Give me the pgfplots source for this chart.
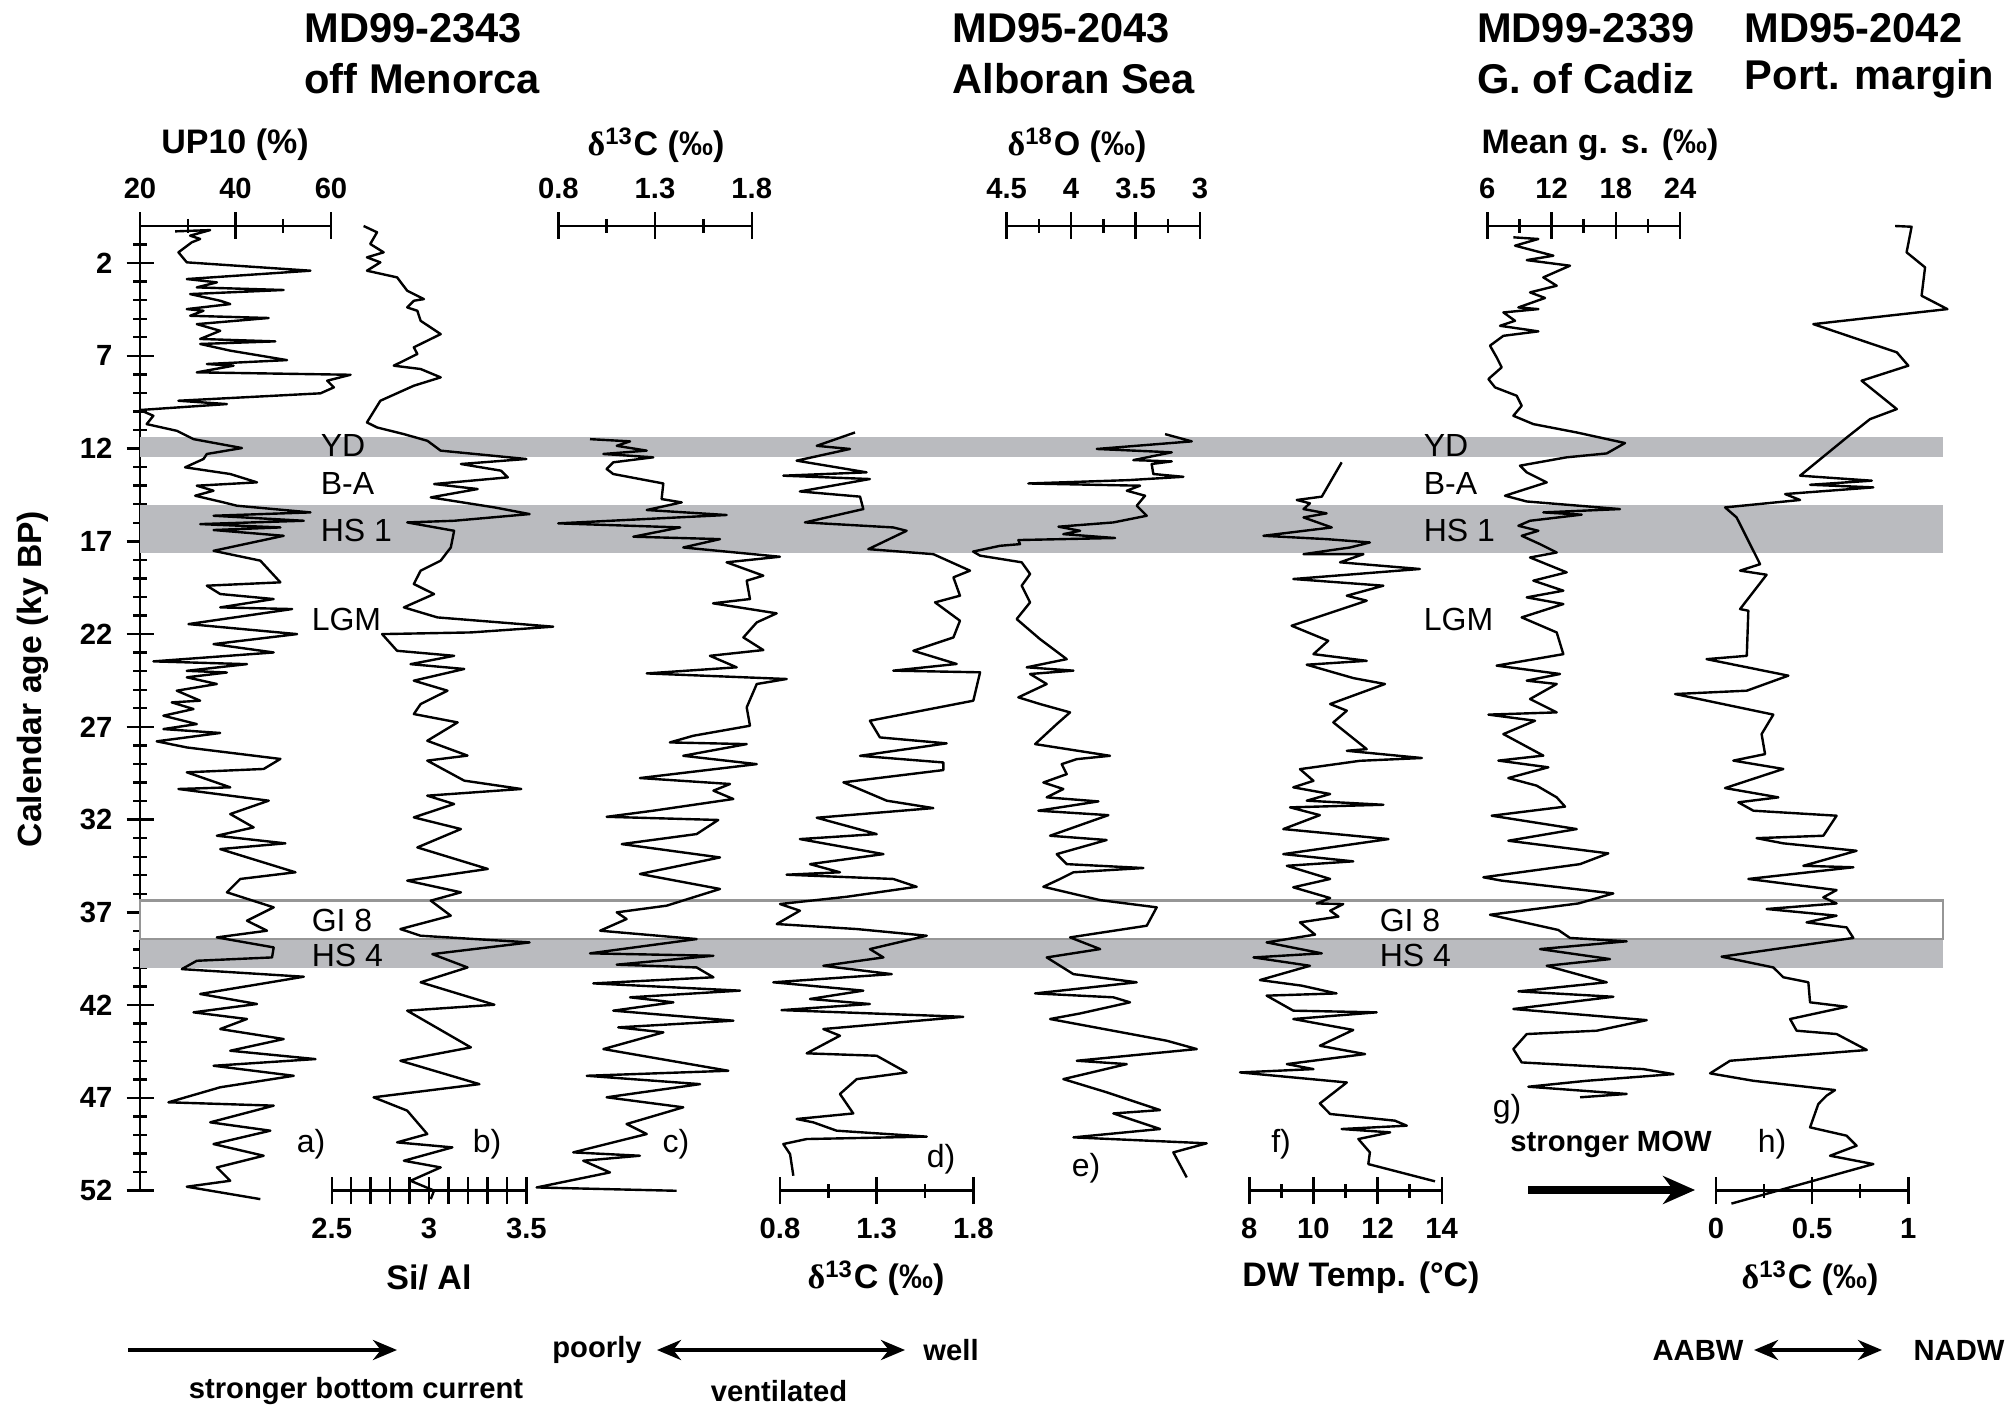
\documentclass[border=0pt]{standalone}
\usepackage{pgfplots}
\pgfplotsset{compat=1.18}
\usepackage{fontspec}
\setmainfont{Liberation Sans}
\newfontfamily\dfont{Liberation Serif}
\usetikzlibrary{arrows.meta}
\definecolor{bandgray}{RGB}{186,187,191}
\definecolor{boxgray}{RGB}{150,150,150}
\newcommand\ticfont{\bfseries\fontsize{7.3}{8}\selectfont}
\newcommand\labfont{\bfseries\fontsize{8.5}{10}\selectfont}
\newcommand\titfont{\bfseries\fontsize{10.4}{12}\selectfont}
\newcommand\bandfont{\fontsize{8}{9}\selectfont}
\newcommand\dC{{\dfont δ}\textsuperscript{13}C (‰)}
\pgfplotsset{
  curve/.style={scale only axis, height=241.15pt, ymin=0, ymax=52, y dir=reverse,
    axis y line=none, ytick=\empty, clip=false, tick align=center,
    major tick length=6.75pt, minor tick length=3.5pt,
    every tick/.style={black, line width=0.6pt},
    axis line style={-, line width=0.6pt}, anchor=north west,
    xticklabel style={font=\ticfont}},
  noarrow/.style={axis line style={-}, x axis line style={-},
    every outer x axis line/.append style={-},
    every inner x axis line/.append style={-}},
  topbar/.style={axis x line=top, noarrow},
  botbar/.style={axis x line=bottom, noarrow},
  ln/.style={black, line width=0.6pt, line join=round}
}
\begin{document}
\begin{tikzpicture}
\path[use as bounding box] (0,0) rectangle (502pt,-352pt);
% main axis with bands
\begin{axis}[scale only axis, width=450.75pt, height=241.15pt, anchor=north west, at={(35pt,-56.5pt)},
  xmin=0, xmax=1, ymin=0, ymax=52, y dir=reverse, axis x line=none, axis y line=left,
  axis line style={-, line width=0.6pt}, y axis line style={-},
  every outer y axis line/.append style={-}, every inner y axis line/.append style={-},
  xtick=\empty,
  ytick={2,7,12,17,22,27,32,37,42,47,52}, minor ytick={1,...,52},
  tick align=center, major tick length=6.75pt, minor tick length=3.5pt,
  every tick/.style={black, line width=0.6pt},
  yticklabel style={font=\ticfont},
  /pgf/number format/assume math mode=true,
  clip=false]
\addplot[fill=bandgray, draw=none] coordinates {(0,11.36)(1,11.36)(1,12.47)(0,12.47)} -- cycle;
\addplot[fill=bandgray, draw=none] coordinates {(0,15.02)(1,15.02)(1,17.63)(0,17.63)} -- cycle;
\addplot[fill=bandgray, draw=none] coordinates {(0,38.5)(1,38.5)(1,40.0)(0,40.0)} -- cycle;
\addplot[fill=white, draw=boxgray, line width=0.6pt] coordinates {(0,36.37)(1,36.37)(1,38.44)(0,38.44)} -- cycle;
\end{axis}
% a) UP10
\begin{axis}[curve, topbar, at={(35pt,-56.5pt)}, width=47.75pt, xmin=20, xmax=60,
  xtick={20,40,60}, xticklabels={20,40,60}, minor xtick={30,50}]
\addplot[ln] coordinates {(27.35,0.29)(34.7,0.22)(30.5,0.52)(32.6,0.70)(30.85,0.88)(28.05,1.42)(29.8,1.96)(55.7,2.41)(29.8,2.86)(36.1,3.04)(31.9,3.31)(50.1,3.45)(30.5,3.67)(36.8,4.03)(38.9,4.21)(29.8,4.48)(33.3,4.57)(30.5,4.84)(46.95,4.96)(31.9,5.29)(36.8,5.65)(32.6,6.09)(48.35,6.22)(32.6,6.36)(38.9,6.72)(50.8,7.23)(34.0,7.44)(39.6,7.53)(31.9,7.89)(64.1,8.02)(59.2,8.34)(60.6,8.70)(57.8,9.02)(28.05,9.42)(38.2,9.60)(20.0,9.92)(22.8,10.23)(21.4,10.68)(27.7,11.04)(31.2,11.49)(41.35,11.97)(34.0,12.29)(33.3,12.56)(29.45,13.01)(38.9,13.37)(44.5,13.82)(31.9,14.00)(35.4,14.27)(31.55,14.54)(37.5,14.90)(40.3,15.08)(55.7,15.44)(35.4,15.62)(54.3,15.89)(32.6,16.07)(49.4,16.25)(35.4,16.39)(50.1,16.70)(35.4,17.51)(45.2,18.04)(49.4,19.21)(34.0,19.39)(36.8,19.84)(48.0,20.11)(36.8,20.56)(51.85,20.65)(30.15,21.46)(52.9,22.0)(35.4,22.54)(48.0,22.99)(22.8,23.47)(42.4,23.62)(29.8,23.98)(38.2,24.07)(29.8,24.33)(36.1,24.69)(27.7,25.05)(32.6,25.59)(26.65,25.68)(31.2,26.04)(24.9,26.4)(31.9,26.85)(24.9,27.12)(36.8,27.33)(23.5,27.78)(29.8,28.11)(49.4,28.73)(45.9,29.27)(29.8,29.45)(38.9,30.26)(28.05,30.35)(46.95,30.98)(38.9,31.7)(43.8,32.42)(36.1,32.87)(50.45,33.28)(36.8,33.59)(52.55,34.84)(41.0,35.2)(38.2,35.92)(48.0,36.73)(42.4,37.45)(46.6,37.99)(36.1,38.35)(48.0,38.89)(47.65,39.43)(31.9,39.61)(28.75,40.06)(54.3,40.47)(32.6,41.4)(44.5,41.94)(31.2,42.39)(42.4,42.75)(36.8,43.29)(50.1,43.83)(38.9,44.46)(56.75,44.91)(35.4,45.27)(52.2,45.81)(36.8,46.43)(25.95,47.24)(48.0,47.42)(34.7,48.32)(47.3,48.77)(35.4,49.49)(45.9,50.12)(36.1,50.75)(38.9,51.47)(29.8,51.79)(45.2,52.46)};
\end{axis}
% b) Si/Al
\begin{axis}[curve, botbar, at={(82.925pt,-56.5pt)}, width=48.65pt, xmin=2.5, xmax=3.5,
  xtick={2.5,2.6,2.7,2.8,2.9,3,3.1,3.2,3.3,3.4,3.5}, xticklabels={2.5,,,,,3,,,,,3.5}]
\addplot[ln] coordinates {(2.664,0.0)(2.733,0.34)(2.698,0.97)(2.767,1.42)(2.681,1.69)(2.75,1.96)(2.681,2.41)(2.836,2.77)(2.888,3.49)(2.974,3.94)(2.922,4.03)(2.888,4.39)(2.94,4.57)(2.957,5.11)(3.06,5.83)(2.922,6.54)(2.94,6.90)(2.819,7.53)(2.957,7.71)(3.06,8.16)(2.922,8.61)(2.75,9.42)(2.681,10.59)(2.733,10.86)(2.871,11.22)(2.992,11.58)(3.06,12.11)(3.5,12.56)(3.164,12.83)(3.37,13.19)(3.405,13.55)(3.026,13.91)(3.25,14.18)(3.009,14.63)(3.336,15.17)(3.517,15.53)(3.129,15.89)(2.888,15.98)(3.129,16.43)(3.112,17.33)(3.06,18.04)(2.957,18.58)(2.922,19.30)(3.026,19.84)(2.871,20.56)(3.043,21.10)(3.638,21.60)(3.215,21.91)(2.759,22.0)(2.836,22.9)(3.129,23.17)(2.905,23.62)(3.181,23.88)(2.922,24.51)(3.095,25.05)(2.957,25.77)(2.922,26.31)(3.147,26.76)(2.991,27.75)(3.198,28.55)(2.991,28.82)(3.181,29.9)(3.474,30.35)(2.991,30.71)(3.129,31.16)(2.922,31.88)(3.164,32.51)(2.94,33.5)(3.302,34.66)(2.888,35.29)(3.164,35.92)(3.009,36.37)(3.112,37.18)(2.853,37.9)(2.957,38.26)(3.517,38.62)(3.017,39.25)(3.198,39.97)(2.957,40.77)(3.336,41.98)(2.888,42.3)(3.215,44.28)(2.853,45.0)(3.259,46.26)(2.715,46.97)(2.888,47.69)(2.991,48.95)(2.836,49.4)(3.12,49.67)(2.871,50.39)(3.06,50.75)(2.905,51.47)(3.026,52.0)(3.009,52.46)};
\end{axis}
% c) d13C top
\begin{axis}[curve, topbar, at={(139.575pt,-56.5pt)}, width=48.35pt, xmin=0.8, xmax=1.8,
  xtick={0.8,1.3,1.8}, xticklabels={0.8,1.3,1.8}, minor xtick={1.05,1.55}]
\addplot[ln] coordinates {(0.964,11.49)(1.171,11.61)(1.102,11.85)(1.257,12.11)(1.033,12.29)(1.291,12.47)(1.084,12.74)(1.05,13.1)(1.084,13.37)(1.343,13.88)(1.334,14.72)(1.438,14.9)(1.257,15.31)(1.67,15.58)(0.80,16.03)(1.43,16.25)(1.188,16.75)(1.636,16.88)(1.446,17.33)(1.946,17.83)(1.67,18.13)(1.86,18.85)(1.774,19.12)(1.791,20.11)(1.6,20.34)(1.929,20.88)(1.826,21.37)(1.757,22.18)(1.86,22.86)(1.584,23.17)(1.722,23.79)(1.257,24.12)(1.981,24.42)(1.826,24.69)(1.774,25.95)(1.791,26.94)(1.498,27.48)(1.377,27.84)(1.774,27.93)(1.446,28.56)(1.826,29.01)(1.222,29.76)(1.688,30.08)(1.602,30.44)(1.705,30.89)(1.291,31.52)(1.05,31.85)(1.627,32.02)(1.515,32.78)(1.128,33.32)(1.636,34.04)(1.222,34.93)(1.636,35.74)(1.36,36.64)(1.102,37.0)(1.153,37.36)(1.016,37.99)(1.515,38.44)(0.964,39.21)(1.602,39.34)(1.102,39.82)(1.515,39.97)(1.602,40.5)(0.981,40.83)(1.739,41.22)(1.171,41.58)(1.395,41.85)(1.084,42.3)(1.705,42.84)(1.11,43.2)(1.343,43.47)(1.033,44.37)(1.679,45.54)(0.947,45.81)(1.533,46.26)(1.05,46.97)(1.446,47.51)(1.153,48.41)(1.257,48.95)(0.877,49.94)(1.222,50.12)(0.929,50.39)(1.067,51.02)(0.688,51.83)(1.412,52.01)};
\end{axis}
% d) d13C bottom
\begin{axis}[curve, botbar, at={(195pt,-56.5pt)}, width=48.325pt, xmin=0.8, xmax=1.8,
  xtick={0.8,1.3,1.8}, xticklabels={0.8,1.3,1.8}, minor xtick={1.05,1.55}]
\addplot[ln] coordinates {(1.188,11.13)(0.99,11.85)(1.162,12.02)(0.886,12.65)(1.248,13.28)(0.817,13.46)(1.265,13.64)(0.903,14.31)(1.214,14.59)(1.231,15.26)(0.929,15.98)(1.386,16.25)(1.455,16.43)(1.257,17.42)(1.593,17.69)(1.783,18.58)(1.697,18.94)(1.731,19.93)(1.602,20.29)(1.731,21.28)(1.697,22.18)(1.49,22.9)(1.714,23.61)(1.386,23.97)(1.835,24.06)(1.8,25.59)(1.265,26.67)(1.317,27.57)(1.662,27.89)(1.214,28.56)(1.645,28.92)(1.645,29.33)(1.128,29.99)(1.352,30.98)(1.593,31.38)(0.99,31.9)(1.3,32.78)(0.903,33.05)(1.335,33.86)(0.955,34.4)(1.11,34.84)(0.834,34.97)(1.386,35.2)(1.507,35.62)(1.145,36.16)(0.8,36.55)(0.903,36.91)(0.783,37.63)(1.197,37.9)(1.559,38.26)(1.265,38.98)(1.335,39.43)(1.024,39.88)(1.378,40.33)(0.765,40.77)(1.231,41.22)(0.955,41.67)(1.265,41.94)(0.808,42.27)(1.748,42.63)(1.024,43.29)(1.11,43.65)(0.938,44.6)(1.3,44.73)(1.455,45.63)(1.197,45.99)(1.11,46.79)(1.179,47.84)(0.886,48.14)(0.972,48.32)(1.093,48.77)(1.559,49.09)(0.938,49.22)(0.817,49.49)(0.852,50.03)(0.869,51.2)};
\end{axis}
% e) d18O (reversed scale)
\begin{axis}[curve, axis x line*=top, xtick pos=right, xticklabel pos=right, noarrow,
  at={(251.65pt,-56.5pt)}, width=48.35pt, xmin=3, xmax=4.5, x dir=reverse,
  xtick={3,3.5,4,4.5}, xticklabels={3,3.5,4,4.5}, minor xtick={3.25,3.75,4.25}]
\addplot[ln] coordinates {(3.271,11.22)(3.064,11.61)(3.801,12.02)(3.219,12.2)(3.517,12.62)(3.219,12.69)(3.375,12.83)(3.362,13.37)(3.129,13.52)(3.556,13.7)(4.331,13.88)(3.465,14.0)(3.568,14.27)(3.426,14.54)(3.491,15.08)(3.413,15.62)(3.672,15.98)(4.098,16.21)(3.93,16.43)(4.06,16.61)(3.659,16.82)(4.409,16.93)(4.396,17.15)(4.551,17.24)(4.76,17.55)(4.706,17.77)(4.383,18.13)(4.318,18.76)(4.383,19.39)(4.318,20.29)(4.422,21.19)(4.241,22.27)(4.034,23.35)(4.344,23.79)(3.982,23.97)(4.318,24.15)(4.189,24.69)(4.409,25.41)(4.241,25.77)(4.008,26.22)(4.111,26.85)(4.279,27.93)(3.698,28.56)(3.956,28.74)(4.073,29.01)(4.034,29.55)(4.215,30.0)(4.06,30.35)(4.189,30.8)(3.788,31.02)(4.254,31.52)(3.711,31.76)(4.163,32.87)(3.724,33.1)(4.111,33.86)(4.034,34.4)(3.439,34.61)(3.982,34.84)(4.085,35.2)(4.215,35.62)(3.775,36.34)(3.336,36.73)(3.413,37.72)(4.008,38.35)(3.775,38.98)(4.189,39.43)(3.982,40.33)(3.491,40.77)(4.279,41.37)(3.672,41.58)(3.543,41.85)(3.93,42.45)(4.163,42.75)(3.258,43.92)(3.025,44.37)(3.956,45.0)(3.568,45.18)(4.06,45.99)(3.724,46.7)(3.31,47.66)(3.672,47.84)(3.31,48.68)(3.982,49.13)(2.948,49.45)(3.207,49.94)(3.103,51.29)};
\end{axis}
% f) DW temp
\begin{axis}[curve, botbar, at={(312.325pt,-56.5pt)}, width=48.1pt, xmin=8, xmax=14,
  xtick={8,10,12,14}, xticklabels={8,10,12,14}, minor xtick={9,11,13}]
\addplot[ln] coordinates {(10.88,12.74)(10.26,14.59)(9.48,14.77)(9.89,14.95)(9.69,15.26)(10.41,15.49)(9.69,15.71)(10.57,16.25)(8.44,16.7)(10.41,16.88)(11.76,17.06)(11.14,17.33)(9.69,17.69)(11.56,17.69)(10.83,18.13)(13.32,18.49)(9.37,19.03)(12.18,19.39)(11.04,19.93)(11.66,20.2)(10.1,21.1)(9.32,21.55)(10.46,22.36)(10.0,23.08)(11.66,23.44)(9.79,23.65)(11.24,24.37)(12.23,24.69)(10.52,25.77)(11.04,26.13)(10.62,26.76)(11.66,28.2)(11.04,28.29)(13.38,28.68)(11.45,28.83)(9.58,29.28)(10.0,29.91)(9.37,30.26)(10.52,30.62)(9.79,30.98)(12.18,31.2)(9.27,31.34)(10.2,31.76)(9.06,32.51)(12.34,33.05)(9.06,33.86)(11.24,34.25)(9.17,34.49)(10.52,35.2)(9.37,35.65)(10.52,36.23)(10.1,36.52)(10.93,36.55)(10.52,36.91)(10.78,37.23)(9.58,37.54)(10.05,38.2)(8.54,38.62)(10.26,39.21)(8.13,39.43)(9.89,39.88)(8.33,40.65)(9.63,40.95)(10.72,41.37)(8.54,41.49)(9.37,42.3)(11.97,42.39)(9.37,42.75)(11.24,43.34)(10.2,44.19)(11.61,44.64)(9.17,45.18)(10.0,45.45)(7.71,45.63)(11.04,46.17)(10.2,47.3)(10.52,47.87)(12.54,48.23)(12.91,48.5)(10.88,48.68)(12.39,48.86)(11.4,49.22)(11.76,49.94)(11.71,50.57)(13.79,51.5)};
\end{axis}
% g) mean grain size
\begin{axis}[curve, topbar, at={(371.825pt,-56.5pt)}, width=48.175pt, xmin=6, xmax=24,
  xtick={6,12,18,24}, xticklabels={6,12,18,24}, minor xtick={9,15,21}]
\addplot[ln] coordinates {(8.43,0.61)(10.77,0.70)(8.59,1.06)(12.17,1.6)(9.68,1.84)(13.72,2.14)(11.23,2.77)(12.48,3.22)(9.99,3.58)(11.39,3.88)(8.9,4.39)(10.77,4.48)(7.5,4.66)(8.59,5.11)(7.19,5.38)(10.77,5.68)(7.5,5.92)(6.25,6.45)(6.87,7.08)(7.34,7.62)(6.1,8.25)(6.72,8.7)(8.74,9.15)(9.21,9.69)(8.43,10.23)(10.3,10.68)(14.35,11.13)(18.86,11.7)(17.15,12.26)(13.41,12.47)(9.05,12.92)(9.68,13.28)(11.55,13.82)(7.65,14.54)(9.68,14.85)(18.39,15.26)(11.23,15.44)(14.81,15.56)(9.99,15.89)(8.9,16.16)(10.77,16.43)(9.21,16.7)(10.92,17.15)(12.48,17.6)(9.99,17.87)(13.41,18.67)(10.3,19.12)(13.1,19.66)(9.68,20.02)(13.1,20.38)(9.21,21.1)(12.48,21.91)(13.1,23.08)(6.87,23.7)(12.79,24.15)(9.68,24.51)(12.48,24.69)(9.99,25.5)(12.48,26.22)(6.1,26.34)(10.46,26.67)(7.5,27.39)(11.23,28.55)(7.03,28.82)(11.7,29.18)(7.96,29.76)(10.61,30.17)(12.48,30.8)(13.26,31.3)(6.41,31.79)(14.35,32.51)(7.96,33.14)(17.3,33.82)(14.66,34.4)(5.63,35.11)(7.34,35.29)(17.77,35.98)(14.5,36.52)(6.25,37.13)(10.14,37.63)(12.63,37.95)(13.72,38.38)(19.02,38.56)(10.92,38.98)(17.46,39.52)(11.55,39.88)(17.15,40.77)(8.9,41.26)(17.77,41.55)(8.43,42.21)(20.89,42.81)(16.22,43.38)(9.68,43.56)(8.43,44.37)(9.21,45.09)(20.57,45.45)(23.38,45.72)(15.28,46.08)(9.83,46.4)(19.02,46.79)(14.66,46.97)};
\end{axis}
% h) d13C Port. margin
\begin{axis}[curve, botbar, at={(429pt,-56.5pt)}, width=48.075pt, xmin=0, xmax=1,
  xtick={0,0.5,1}, xticklabels={0,0.5,1}, minor xtick={0.25,0.75}]
\addplot[ln] coordinates {(0.931,0.0)(1.017,0.04)(0.991,1.42)(1.087,2.23)(1.069,3.76)(1.203,4.48)(0.506,5.29)(0.94,6.81)(1.0,7.53)(0.757,8.34)(0.94,9.87)(0.801,10.41)(0.68,11.4)(0.437,13.46)(0.81,13.73)(0.489,13.95)(0.818,14.09)(0.359,14.45)(0.437,14.77)(0.047,15.17)(0.107,15.71)(0.229,18.23)(0.125,18.58)(0.263,18.8)(0.125,20.65)(0.168,20.74)(0.16,23.17)(-0.049,23.35)(0.376,24.24)(0.16,25.05)(-0.213,25.23)(0.298,26.34)(0.237,27.39)(0.255,28.47)(0.09,28.82)(0.35,29.27)(0.047,30.3)(0.324,30.8)(0.116,31.07)(0.194,31.52)(0.627,31.79)(0.558,32.87)(0.211,33.0)(0.35,33.28)(0.731,33.68)(0.454,34.49)(0.714,34.57)(0.168,35.2)(0.627,35.8)(0.558,36.19)(0.627,36.52)(0.263,36.82)(0.627,37.18)(0.471,37.54)(0.679,37.81)(0.714,38.38)(0.029,39.39)(0.298,39.97)(0.35,40.5)(0.48,40.77)(0.489,41.85)(0.679,42.09)(0.385,42.75)(0.419,43.38)(0.627,43.56)(0.784,44.42)(0.073,45.0)(-0.031,45.68)(0.194,46.08)(0.619,46.58)(0.575,46.88)(0.532,47.33)(0.489,48.59)(0.679,49.04)(0.731,49.58)(0.593,50.12)(0.818,50.57)(0.08,52.7)};
\end{axis}
% y label
\node[rotate=90, font=\bfseries\fontsize{8.4}{10}\selectfont, inner sep=0pt] at (8.25pt,-169.75pt) {Calendar age (ky BP)};
% titles
\node[anchor=west, font=\titfont, inner sep=0pt] at (75.9pt,-7pt) {MD99-2343};
\node[anchor=west, font=\titfont, inner sep=0pt] at (75.9pt,-19.75pt) {off Menorca};
\node[anchor=west, font=\titfont, inner sep=0pt] at (237.9pt,-7pt) {MD95-2043};
\node[anchor=west, font=\titfont, inner sep=0pt] at (237.9pt,-19.75pt) {Alboran Sea};
\node[anchor=west, font=\titfont, inner sep=0pt] at (369.1pt,-7pt) {MD99-2339};
\node[anchor=west, font=\titfont, inner sep=0pt] at (369.1pt,-19.75pt) {G. of Cadiz};
\node[anchor=west, font=\titfont, inner sep=0pt] at (436pt,-7pt) {MD95-2042};
\node[anchor=west, font=\titfont, inner sep=0pt] at (436pt,-19.75pt) {Port. margin};
% axis titles
\node[font=\labfont] at (58.75pt,-36.25pt) {UP10 (\%)};
\node[font=\labfont] at (164pt,-36.25pt) {\dC};
\node[font=\labfont] at (269.25pt,-36.25pt) {{\dfont δ}\textsuperscript{18}O (‰)};
\node[font=\labfont] at (400pt,-36.25pt) {Mean g. s. (‰)};
\node[font=\labfont] at (107.25pt,-319.5pt) {Si/ Al};
\node[font=\labfont] at (219pt,-319.5pt) {\dC};
\node[font=\labfont] at (340.25pt,-319.5pt) {DW Temp. (°C)};
\node[font=\labfont] at (452.5pt,-319.5pt) {\dC};
% band labels
\foreach \xx/\yy/\tt in {80/111.5/YD, 80/121/B-A, 80/132.5/HS 1, 77.75/154.75/LGM, 77.75/230/GI 8, 77.75/238.75/HS 4,
  355.75/111.5/YD, 355.75/121/B-A, 355.75/132.5/HS 1, 355.75/154.75/LGM, 344.75/230/GI 8, 344.75/238.75/HS 4}
  \node[anchor=west, font=\bandfont, inner sep=0pt] at (\xx pt,-\yy pt) {\tt};
% panel letters
\foreach \xx/\yy/\tt in {77.75/286/a), 121.75/286/b), 169/286/c), 235.25/289.75/d), 271.5/292/e), 320.25/286/f), 376.75/277.25/g), 443/286/h)}
  \node[font=\bandfont, inner sep=0pt] at (\xx pt,-\yy pt) {\tt};
% annotations
\draw[line width=1pt, -{Stealth[length=6pt,width=5pt]}] (32pt,-337.5pt) -- (99.25pt,-337.5pt);
\node[font=\ticfont] at (89pt,-347.75pt) {stronger bottom current};
\node[font=\ticfont] at (149.25pt,-337.5pt) {poorly};
\draw[line width=1pt, {Stealth[length=6pt,width=5pt]}-{Stealth[length=6pt,width=5pt]}] (164.25pt,-337.5pt) -- (226.25pt,-337.5pt);
\node[font=\ticfont] at (237.75pt,-337.5pt) {well};
\node[font=\ticfont] at (194.75pt,-347.75pt) {ventilated};
\node[font=\ticfont] at (402.75pt,-286pt) {stronger MOW};
\draw[line width=1.8pt, -{Stealth[length=8pt,width=7pt]}] (382pt,-297.5pt) -- (423.75pt,-297.5pt);
\node[font=\ticfont] at (424.5pt,-337.5pt) {AABW};
\draw[line width=1pt, {Stealth[length=6pt,width=5pt]}-{Stealth[length=6pt,width=5pt]}] (438.5pt,-337.5pt) -- (470.5pt,-337.5pt);
\node[font=\ticfont] at (489.75pt,-337.5pt) {NADW};
\end{tikzpicture}
\end{document}
